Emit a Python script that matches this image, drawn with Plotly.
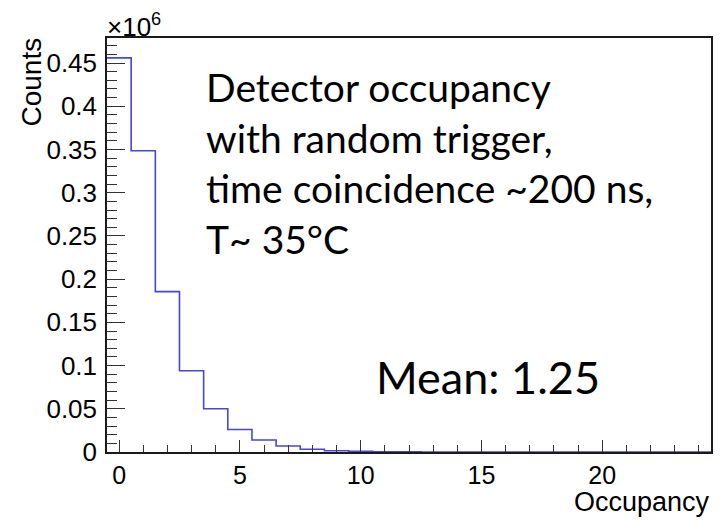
import plotly.graph_objects as go

# Occupancy histogram: one bin per integer occupancy value (bin width 1)
occupancy_bins = list(range(25))
counts = [456000, 348500, 185500, 94000, 50000, 26000, 13800, 7000, 3200, 1500,
          700, 300, 120, 50, 20, 8, 3, 1, 0, 0, 0, 0, 0, 0, 0]
scale = 1e6  # y axis shown in units of 10^6

y_tick_vals = [0, 0.05, 0.1, 0.15, 0.2, 0.25, 0.3, 0.35, 0.4, 0.45]
y_tick_text = ["0", "0.05", "0.1", "0.15", "0.2", "0.25", "0.3", "0.35", "0.4", "0.45"]
x_tick_vals = [0, 5, 10, 15, 20]

info_lines = ["Detector occupancy", "with random trigger,",
              "time coincidence ~200 ns,", "T~ 35°C"]
mean_text = "Mean: 1.25"

# bin edges for a step outline
edges = [b - 0.5 for b in occupancy_bins] + [occupancy_bins[-1] + 0.5]
heights = [c / scale for c in counts] + [counts[-1] / scale]

W, H = 728, 521
L, R, T, B = 107, 17, 38, 69
pw, ph = W - L - R, H - T - B


def px(x):
    return (x - L) / pw


def py(y):
    return (H - B - y) / ph


fig = go.Figure()
fig.add_trace(go.Scatter(
    x=edges, y=heights, mode="lines", line_shape="hv",
    line=dict(color="rgb(70,70,215)", width=1.6),
    hoverinfo="skip", showlegend=False,
))

sans = "Liberation Sans"
tick_font = dict(family=sans, size=25, color="black")
axis_col = "#1a1a1a"

fig.update_xaxes(
    range=[-0.5, 24.5], tickvals=x_tick_vals, ticks="inside", ticklen=12,
    tickwidth=1, tickcolor="#333", tickfont=tick_font,
    showline=True, mirror=True, linecolor=axis_col, linewidth=1.5,
    showgrid=False, zeroline=False,
    minor=dict(ticks="inside", ticklen=7, dtick=1, tick0=0, tickcolor="#333",
               tickwidth=1, showgrid=False),
)
fig.update_yaxes(
    range=[0, 0.479], tickvals=y_tick_vals, ticktext=y_tick_text,
    ticks="inside", ticklen=18, tickwidth=1, tickcolor="#333",
    tickfont=dict(family=sans, size=26, color="black"), ticklabelstandoff=3,
    showline=True, mirror=True, linecolor=axis_col, linewidth=1.5,
    showgrid=False, zeroline=False,
    minor=dict(ticks="inside", ticklen=10, dtick=0.01, tick0=0,
               tickcolor="#333", tickwidth=1, showgrid=False),
)

annotations = [
    dict(text="×10<sup>6</sup>", x=px(105), y=py(25), xref="paper", yref="paper",
         xanchor="left", yanchor="middle", showarrow=False,
         font=dict(family=sans, size=26, color="black")),
    dict(text="Counts", x=px(31), y=py(36), xref="paper", yref="paper",
         xanchor="center", yanchor="top", textangle=-90, showarrow=False,
         font=dict(family=sans, size=28, color="black")),
    dict(text="Occupancy", x=px(712), y=py(502), xref="paper", yref="paper",
         xanchor="right", yanchor="middle", showarrow=False,
         font=dict(family=sans, size=27, color="black")),
    dict(text="<br>".join(info_lines), x=px(204), y=py(163), xref="paper",
         yref="paper", xanchor="left", yanchor="middle", align="left",
         showarrow=False, font=dict(family="Lato", size=39, color="black")),
    dict(text=mean_text, x=px(374), y=py(377), xref="paper", yref="paper",
         xanchor="left", yanchor="middle", showarrow=False,
         font=dict(family="Lato", size=45, color="black")),
]

fig.update_layout(
    width=W, height=H, margin=dict(l=L, r=R, t=T, b=B),
    paper_bgcolor="white", plot_bgcolor="white",
    annotations=annotations, showlegend=False,
)

fig.write_html("out.html")
